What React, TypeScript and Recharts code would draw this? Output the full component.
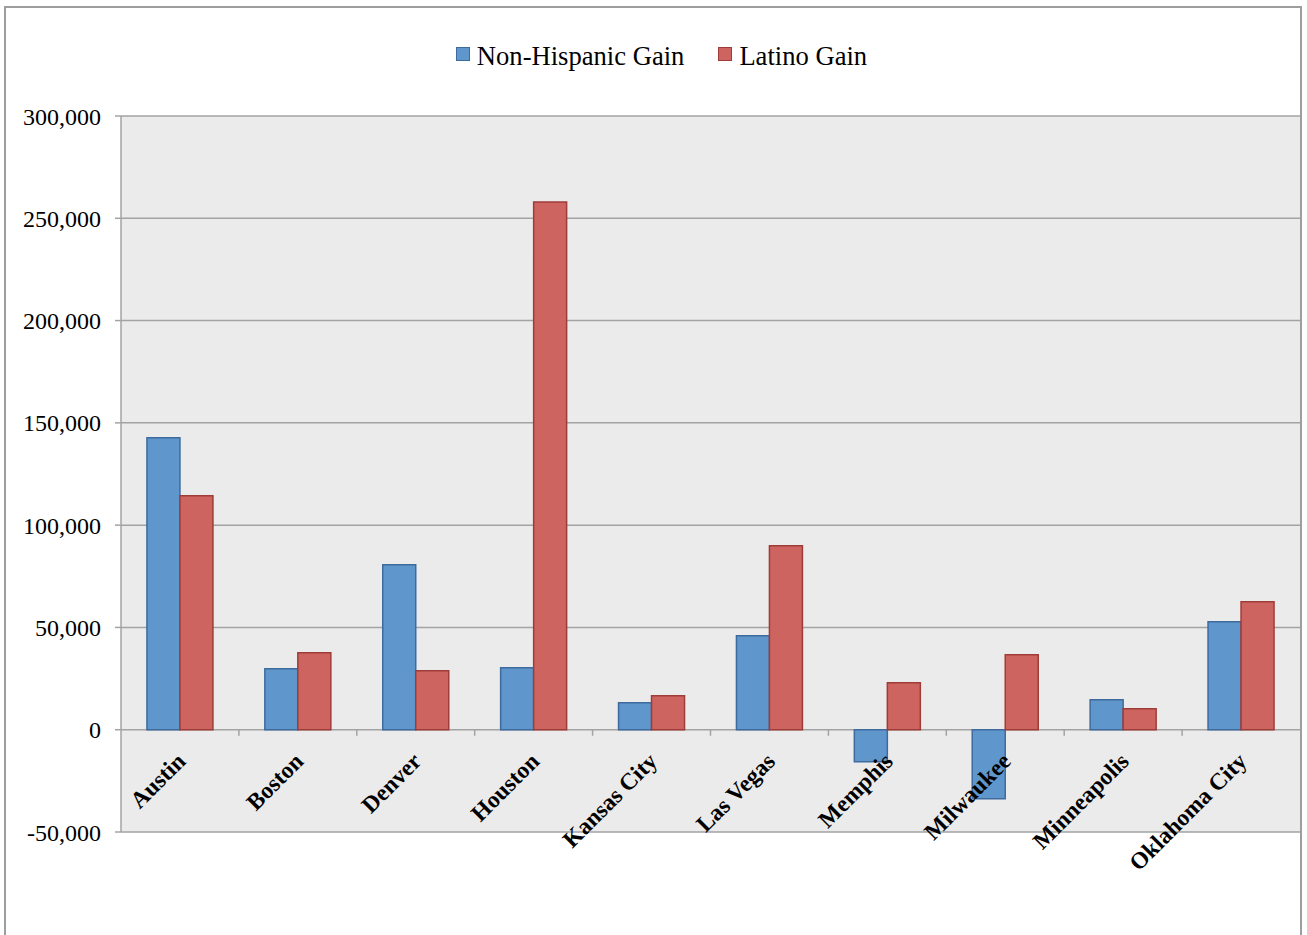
import React from 'react';
import { BarChart, Bar, XAxis, YAxis, CartesianGrid } from 'recharts';

const CITIES = ['Austin', 'Boston', 'Denver', 'Houston', 'Kansas City', 'Las Vegas', 'Memphis', 'Milwaukee', 'Minneapolis', 'Oklahoma City'];
const NON_HISPANIC_GAIN = [142700, 29800, 80700, 30300, 13200, 45900, -15600, -33700, 14700, 52800];
const LATINO_GAIN = [114400, 37600, 28800, 258000, 16600, 89900, 23000, 36700, 10300, 62600];
const Y_TICKS = [-50000, 0, 50000, 100000, 150000, 200000, 250000, 300000];

const W = 1307;
const H = 935;
const X_AXIS_H = 30;
const MARGIN = { top: 116, right: 7, bottom: 103 - X_AXIS_H, left: 0 };
const Y_AXIS_W = 121;
const PLOT_W = W - MARGIN.left - MARGIN.right - Y_AXIS_W;
const PLOT_H = H - MARGIN.top - MARGIN.bottom - X_AXIS_H;
const Y_MIN = -50000;
const Y_MAX = 300000;
const ZERO_Y = MARGIN.top + (PLOT_H * Y_MAX) / (Y_MAX - Y_MIN);

const SERIF = '"Liberation Serif", "Times New Roman", serif';
const GRID = '#a3a3a3';
const BLUE = '#5f96cc';
const BLUE_EDGE = '#3e6b9e';
const RED = '#cd645f';
const RED_EDGE = '#a03c38';

const data = CITIES.map((city, i) => ({
    city,
    nonHispanic: NON_HISPANIC_GAIN[i],
    latino: LATINO_GAIN[i],
}));

const fmt = (v: number) => v.toLocaleString('en-US');

// category labels sit under the zero line, rotated like the original
const CityTick = (props: any) => {
    const { x, payload, index } = props;
    const bw = PLOT_W / CITIES.length;
    const bx = x - bw / 2;
    const lx = x + 7;
    const ly = ZERO_Y + 33;
    return (
        <g>
            {index > 0 && <line x1={bx} y1={ZERO_Y} x2={bx} y2={ZERO_Y + 6} stroke={GRID} strokeWidth={1.5} />}
            <text
                x={lx}
                y={ly}
                transform={`rotate(-45, ${lx}, ${ly})`}
                textAnchor="end"
                fontFamily={SERIF}
                fontWeight="bold"
                fontSize={23.5}
                fill="#000"
            >
                {payload.value}
            </text>
        </g>
    );
};

const LegendBox = () => {
    const items = [
        { label: 'Non-Hispanic Gain', fill: BLUE, edge: BLUE_EDGE },
        { label: 'Latino Gain', fill: RED, edge: RED_EDGE },
    ];
    return (
        <div style={{ position: 'absolute', top: 38, left: 8, width: W, display: 'flex', justifyContent: 'center', gap: 34, fontFamily: SERIF, fontSize: 26.6, lineHeight: '36px', color: '#000' }}>
            {items.map((it) => (
                <div key={it.label} style={{ display: 'flex', alignItems: 'center' }}>
                    <span style={{ display: 'inline-block', width: 12, height: 12, background: it.fill, border: `1px solid ${it.edge}`, marginRight: 7, marginTop: -5 }} />
                    <span>{it.label}</span>
                </div>
            ))}
        </div>
    );
};

export default function App() {
    return (
        <div style={{ position: 'absolute', left: 0, top: 0, width: W, height: H, overflow: 'hidden', background: '#fff' }}>
            <div style={{ position: 'absolute', left: 4, top: 6, width: 1298, height: 1000, border: '2px solid #9e9e9e', boxSizing: 'border-box' }} />
            <div style={{ position: 'absolute', left: 0, top: 0 }}>
                <BarChart width={W} height={H} data={data} margin={MARGIN} barCategoryGap="22%" barGap={0}>
                    <CartesianGrid vertical={false} stroke={GRID} strokeWidth={1.5} fill="#ebebeb" fillOpacity={1} />
                    <XAxis
                        dataKey="city"
                        height={X_AXIS_H}
                        axisLine={false}
                        tickLine={false}
                        tick={<CityTick />}
                        interval={0}
                    />
                    <YAxis
                        width={Y_AXIS_W}
                        domain={[Y_MIN, Y_MAX]}
                        ticks={Y_TICKS}
                        tickFormatter={fmt}
                        axisLine={{ stroke: GRID, strokeWidth: 1.5 }}
                        tickLine={{ stroke: GRID, strokeWidth: 1.5 }}
                        tickSize={6}
                        tickMargin={14}
                        tick={{ fill: '#000', fontFamily: SERIF, fontSize: 24 }}
                        allowDataOverflow
                    />
                    <Bar dataKey="nonHispanic" name="Non-Hispanic Gain" fill={BLUE} stroke={BLUE_EDGE} strokeWidth={1.5} isAnimationActive={false} />
                    <Bar dataKey="latino" name="Latino Gain" fill={RED} stroke={RED_EDGE} strokeWidth={1.5} isAnimationActive={false} />
                </BarChart>
            </div>
            <LegendBox />
        </div>
    );
}
